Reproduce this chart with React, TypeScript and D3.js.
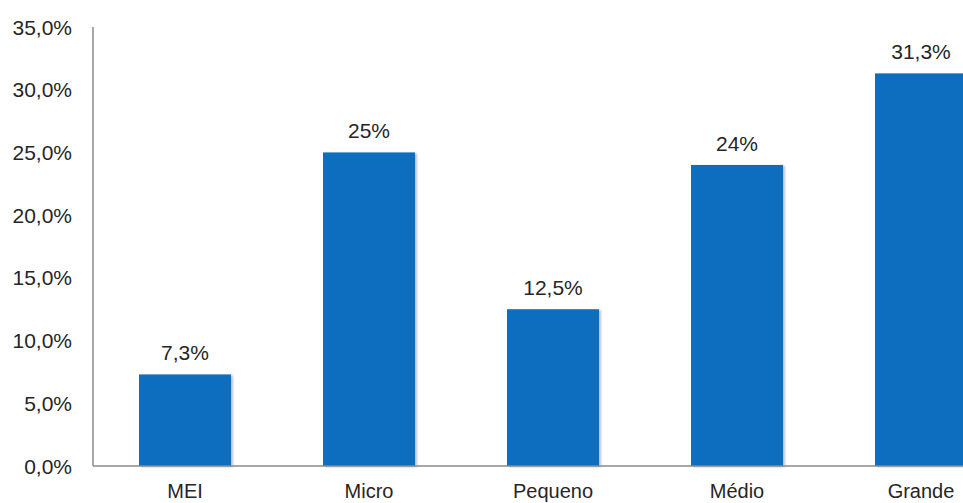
import React from "react";
import * as d3 from "d3";

const categories = ["MEI", "Micro", "Pequeno", "Médio", "Grande"];
const values = [7.3, 25, 12.5, 24, 31.3];
const valueLabels = ["7,3%", "25%", "12,5%", "24%", "31,3%"];
const yTicks = [0, 5, 10, 15, 20, 25, 30, 35];

const W = 963;
const H = 503;
const x0 = 93;
const yZero = 466;
const yTop = 27;

export default function App() {
  const x = d3
    .scaleBand<string>()
    .domain(categories)
    .range([x0, x0 + 184 * 5])
    .paddingInner(0.5)
    .paddingOuter(0.25);
  const y = d3.scaleLinear().domain([0, 35]).range([yZero, yTop]);
  const fmt = (v: number) => v.toFixed(1).replace(".", ",") + "%";
  const font = "'Liberation Sans', Arial, sans-serif";
  const fs = 21;

  return (
    <svg
      width={W}
      height={H}
      style={{ position: "absolute", left: 0, top: 0, background: "#fff" }}
      fontFamily={font}
    >
      <defs>
        <filter id="sh" x="-10%" y="-10%" width="130%" height="130%">
          <feDropShadow dx="2" dy="1" stdDeviation="1.2" floodColor="#000" floodOpacity="0.25" />
        </filter>
      </defs>
      {categories.map((c, i) => (
        <rect
          key={c}
          x={x(c)!}
          y={y(values[i])}
          width={x.bandwidth()}
          height={yZero - y(values[i])}
          fill="#0a6ec0"
          filter="url(#sh)"
        />
      ))}
      <line x1={x0} x2={x0} y1={yTop} y2={yZero} stroke="#8a8a8a" strokeWidth={1.5} />
      <line x1={x0} x2={W} y1={yZero} y2={yZero} stroke="#8a8a8a" strokeWidth={1.5} />
      {yTicks.map((t) => (
        <text
          key={t}
          x={72}
          y={y(t)}
          dy="0.36em"
          textAnchor="end"
          fontSize={fs}
          fill="#262626"
        >
          {fmt(t)}
        </text>
      ))}
      {categories.map((c, i) => (
        <text
          key={c}
          x={x(c)! + x.bandwidth() / 2}
          y={y(values[i]) - 14}
          textAnchor="middle"
          fontSize={fs}
          fill="#262626"
        >
          {valueLabels[i]}
        </text>
      ))}
      {categories.map((c) => (
        <text
          key={c}
          x={x(c)! + x.bandwidth() / 2}
          y={498}
          textAnchor="middle"
          fontSize={20}
          fill="#262626"
        >
          {c}
        </text>
      ))}
    </svg>
  );
}
